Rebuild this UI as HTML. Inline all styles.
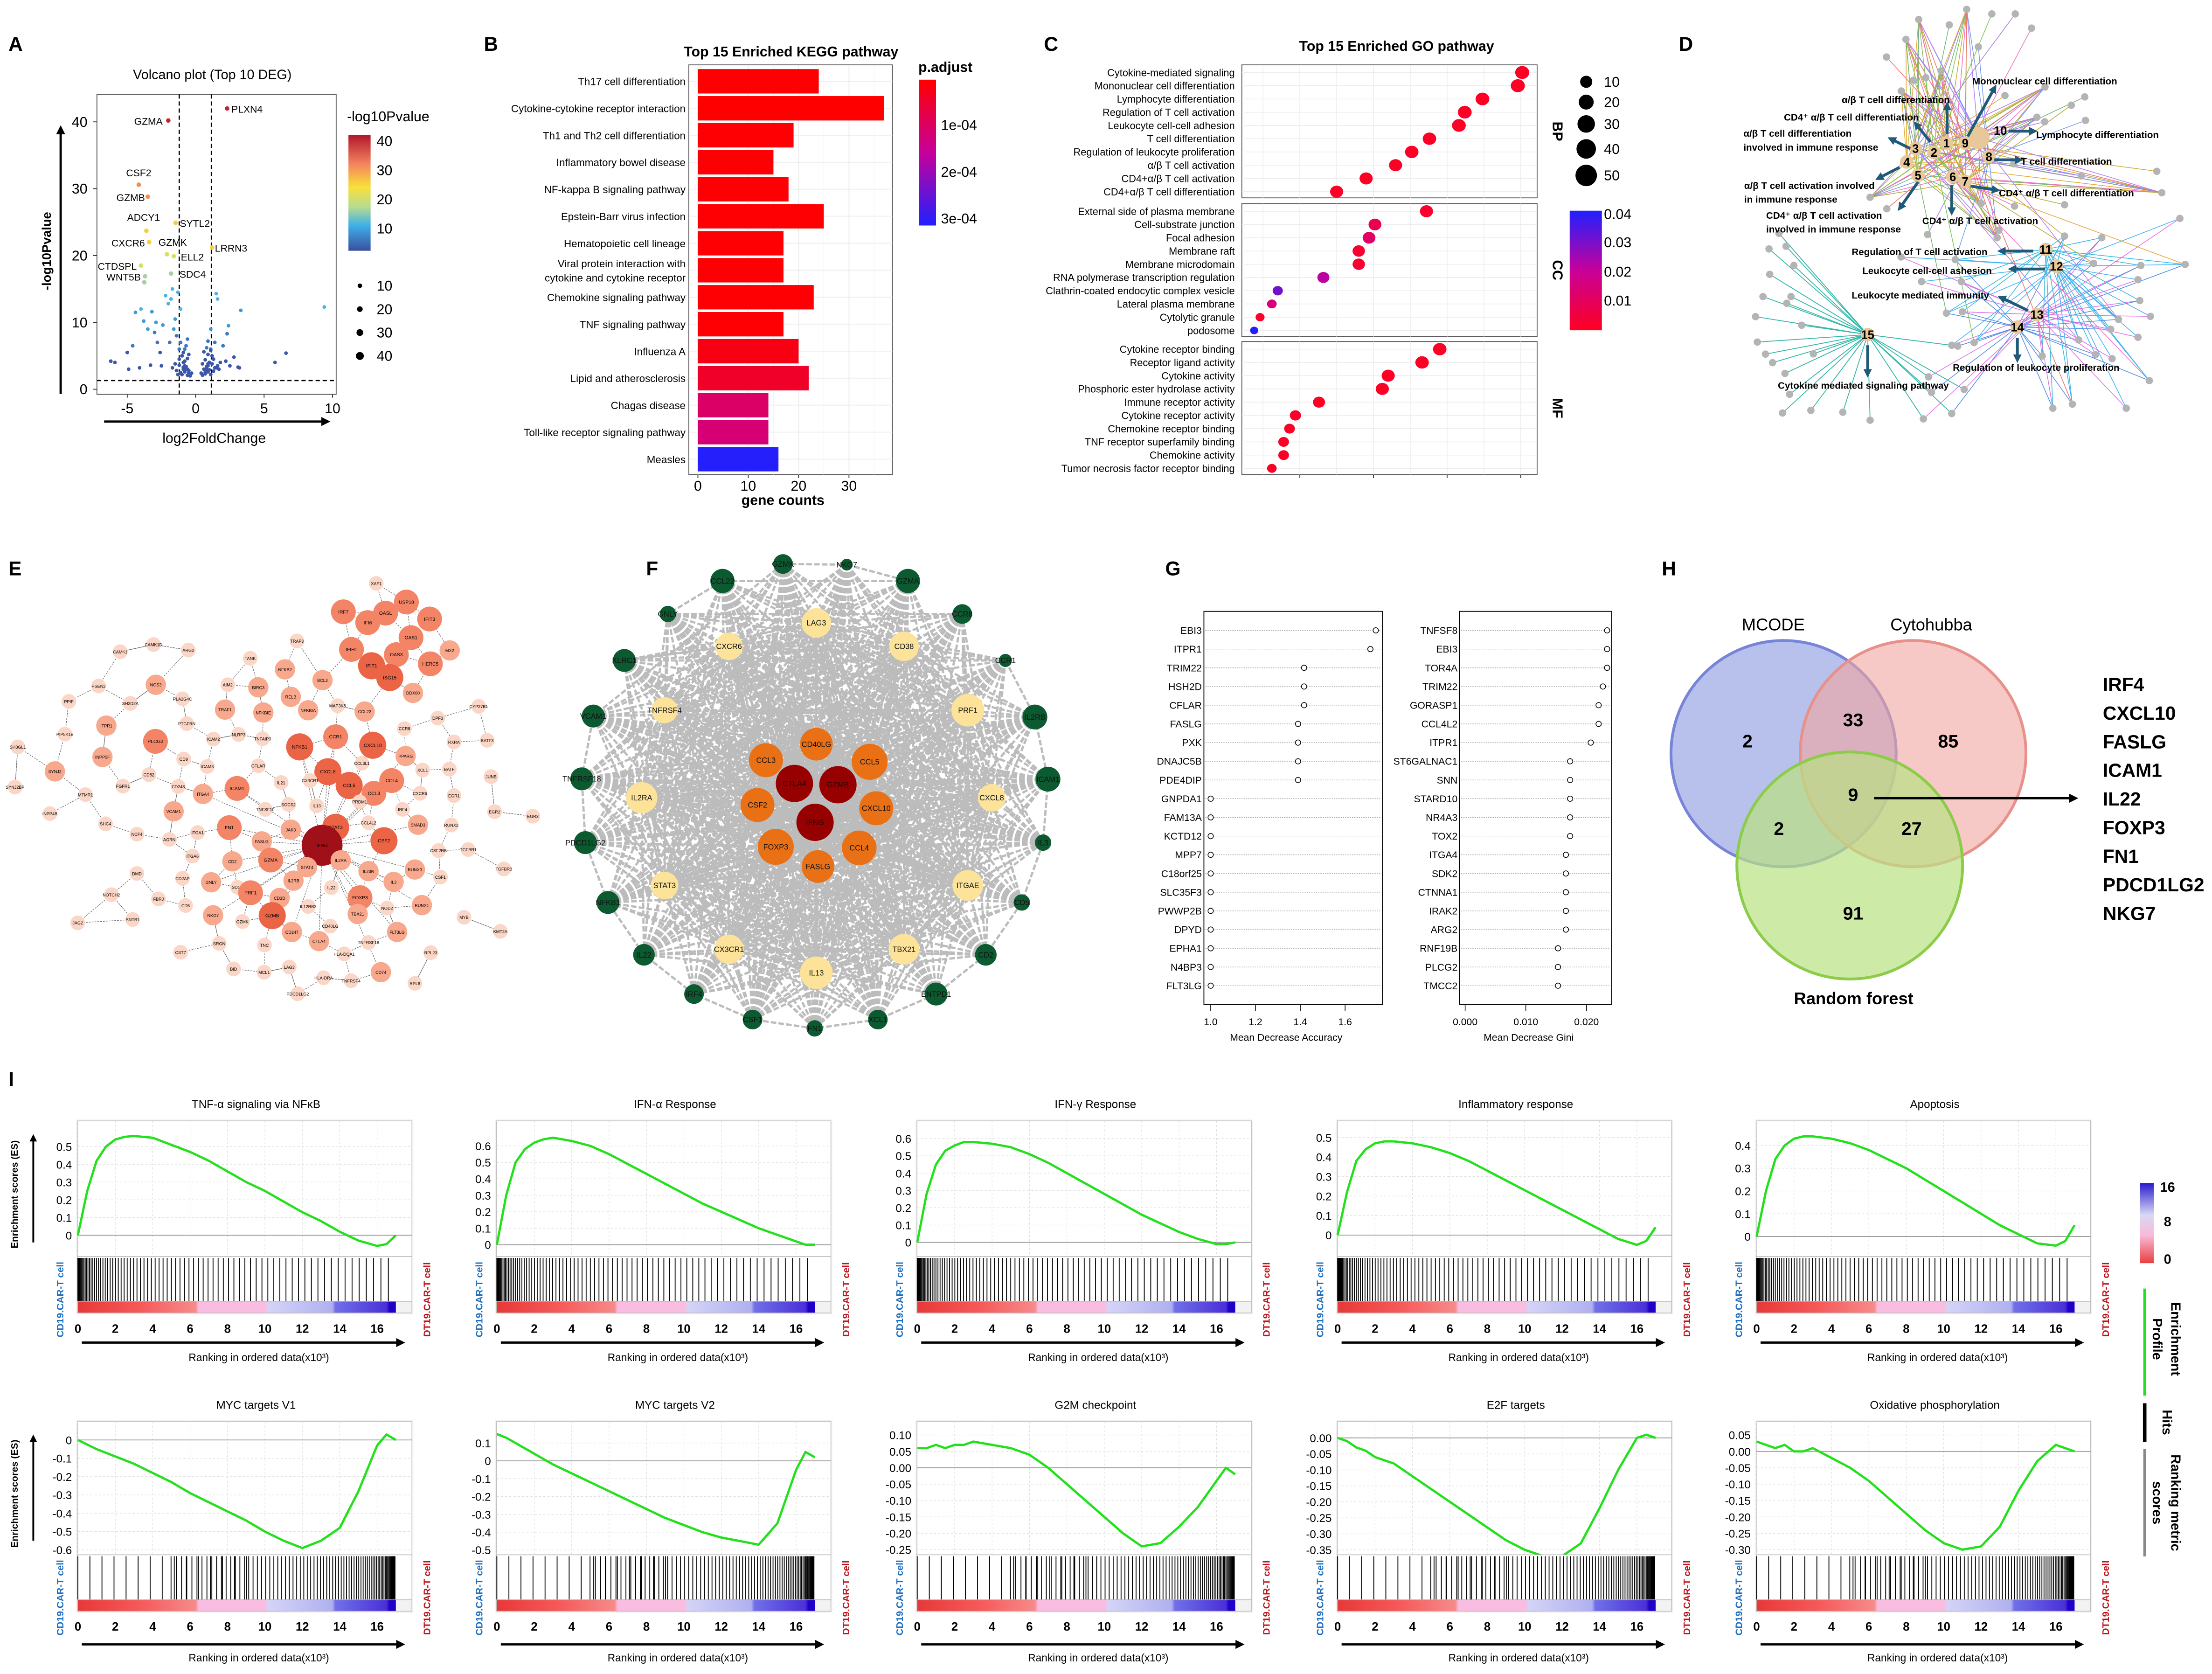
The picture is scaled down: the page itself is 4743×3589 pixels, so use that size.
<!DOCTYPE html>
<html><head><meta charset="utf-8"><title>Figure</title>
<style>
html,body{margin:0;padding:0;background:#fff;}
svg{display:block;font-family:"Liberation Sans Narrow","Liberation Sans","DejaVu Sans",sans-serif;}
</style></head>
<body>
<svg id="fig" xmlns="http://www.w3.org/2000/svg" width="4743" height="3589" viewBox="0 0 1568 1187" preserveAspectRatio="none">
<defs>
<marker id="ah" viewBox="0 0 10 10" refX="5" refY="5" markerWidth="4" markerHeight="4" orient="auto"><path d="M0,0L10,5L0,10z" fill="#000"/></marker>
<marker id="ahb" viewBox="0 0 10 10" refX="5" refY="5" markerWidth="3" markerHeight="3" orient="auto"><path d="M0,0L10,5L0,10z" fill="#1f5a78"/></marker>
<linearGradient id="gVol" x1="0" y1="0" x2="0" y2="1"><stop offset="0" stop-color="#b2182b"/><stop offset="0.25" stop-color="#f4845f"/><stop offset="0.45" stop-color="#f9e03a"/><stop offset="0.62" stop-color="#b6dc90"/><stop offset="0.78" stop-color="#3fb0e8"/><stop offset="1" stop-color="#3a4fa0"/></linearGradient>
<linearGradient id="gKegg" x1="0" y1="0" x2="0" y2="1"><stop offset="0" stop-color="#ff0000"/><stop offset="0.5" stop-color="#c8009a"/><stop offset="1" stop-color="#2020ff"/></linearGradient>
<linearGradient id="gGo" x1="0" y1="0" x2="0" y2="1"><stop offset="0" stop-color="#2020ff"/><stop offset="0.5" stop-color="#c8009a"/><stop offset="1" stop-color="#ff0020"/></linearGradient>
<linearGradient id="gRank" x1="0" y1="0" x2="1" y2="0"><stop offset="0" stop-color="#e83838"/><stop offset="0.2" stop-color="#f65a5a"/><stop offset="0.37" stop-color="#f78a8a"/><stop offset="0.38" stop-color="#f8bde0"/><stop offset="0.59" stop-color="#f8bde0"/><stop offset="0.6" stop-color="#d4d4f8"/><stop offset="0.8" stop-color="#b0b0f0"/><stop offset="0.81" stop-color="#7070e8"/><stop offset="0.97" stop-color="#4a30d8"/><stop offset="0.98" stop-color="#2000c8"/><stop offset="1" stop-color="#2000c8"/></linearGradient>
<linearGradient id="gLeg" x1="0" y1="0" x2="0" y2="1"><stop offset="0" stop-color="#2a1ccc"/><stop offset="0.4" stop-color="#d8d8f4"/><stop offset="0.65" stop-color="#f8bbd8"/><stop offset="1" stop-color="#e84040"/></linearGradient>
</defs>
<g id="root"></g>
</svg>
<script>
// ===================== DATA =====================
const volFc = [-6.2,-5.9,-5.0,-4.6,-4.4,-4.0,-3.8,-3.5,-3.2,-3.0,-2.8,-2.6,-2.4,-2.2,-2.0,-1.9,-1.8,-1.7,-1.6,-1.5,-1.4,-1.3,-1.2,-1.1,-1.0,-0.9,-0.8,-0.7,-0.6,-0.5,-1.5,-1.2,-0.9,-1.7,-2.5,-3.3,-4.9,-4.1,-1.4,-1.1,0.7,0.8,0.9,1.0,1.1,1.2,1.3,1.4,1.5,1.6,1.7,1.8,2.0,2.2,2.5,2.8,3.1,3.3,5.8,6.6,9.4,1.5,2.4,2.3,3.2,1.1,1.3,0.9,1.6,-2.9];
const volP = [4.2,4.0,5.5,6.5,11.5,12,10.2,9,11.6,8.5,7,5.5,9.6,14,12.8,7,13.5,15,9,10.5,8,14.5,6,12,5,4,3.5,3,3,2.5,3.8,4.5,3.3,3.2,3.5,3.6,3,3.2,2.8,2.5,2.5,3,3.5,4,6,5,4.5,7,3.2,3.5,3,4,6.5,4.2,3.5,4.8,3.3,11.8,4,5.4,12.3,14.3,9.5,8.3,3.2,9,4.5,3.8,13.5,10];
const volFc2 = [-1.0,-0.8,-0.6,-0.9,-1.1,-0.7,-0.5,-1.3,-0.4,-0.8,-1.0,-0.6,-1.2,-0.9,-0.7,-0.5,-0.3,-1.1,-0.8,-0.6,0.5,0.7,0.9,1.1,0.6,0.8,1.0,1.2,0.4,0.7,0.9,1.3,0.6,1.0,0.8,1.4,0.5,1.1,0.7,0.9];
const volP2 = [2.2,2.6,2.1,3.0,2.4,3.4,2.8,2.2,2.0,4.2,5.0,4.6,3.6,5.5,6.5,5.2,2.4,7.0,6.0,7.5,2.1,2.3,2.6,2.2,3.0,3.4,2.9,3.8,2.4,4.4,5.2,2.7,5.6,4.0,6.2,3.2,3.8,5.8,2.8,7.2];
const volLabGenes = ["GZMA","PLXN4","CSF2","GZMB","ADCY1","SYTL2","CXCR6","GZMK","ELL2","LRRN3","CTDSPL","SDC4","WNT5B"];
const volLabFc = [-2.0,2.3,-4.16,-3.5,-3.6,-1.47,-3.4,-2.1,-1.6,1.2,-4.0,-1.8,-3.7];
const volLabP = [40.2,42,30.6,28.8,23.7,24.9,22,20.2,19.9,21.2,18.5,17.3,16.9];
const volXTicks = [-5,0,5,10];
const volYTicks = [0,10,20,30,40];

const keggTerms = ["Th17 cell differentiation","Cytokine-cytokine receptor interaction","Th1 and Th2 cell differentiation","Inflammatory bowel disease","NF-kappa B signaling pathway","Epstein-Barr virus infection","Hematopoietic cell lineage","Viral protein interaction with|cytokine and cytokine receptor","Chemokine signaling pathway","TNF signaling pathway","Influenza A","Lipid and atherosclerosis","Chagas disease","Toll-like receptor signaling pathway","Measles"];
const keggCounts = [24,37,19,15,18,25,17,17,23,17,20,22,14,14,16];
const keggPadj = [5e-6,3e-6,6e-6,6e-6,6e-6,6e-6,6e-6,6e-6,6e-6,6e-6,2.2e-5,4.5e-5,1.05e-4,1.2e-4,3.1e-4];
const keggXTicks = [0,10,20,30];

const goBPTerms = ["Cytokine-mediated signaling","Mononuclear cell differentiation","Lymphocyte differentiation","Regulation of T cell activation","Leukocyte cell-cell adhesion","T cell differentiation","Regulation of leukocyte proliferation","α/β T cell activation","CD4+α/β T cell activation","CD4+α/β T cell differentiation"];
const goBPRatio = [0.201,0.198,0.174,0.162,0.158,0.138,0.126,0.115,0.095,0.075];
const goBPCount = [15,15,14,14,14,13,13,12,12,12];
const goBPPadj = [0.001,0.001,0.001,0.001,0.001,0.001,0.001,0.001,0.001,0.001];
const goCCTerms = ["External side of plasma membrane","Cell-substrate junction","Focal adhesion","Membrane raft","Membrane microdomain","RNA polymerase transcription regulation","Clathrin-coated endocytic complex vesicle","Lateral plasma membrane","Cytolytic granule","podosome"];
const goCCRatio = [0.136,0.101,0.097,0.090,0.090,0.066,0.035,0.031,0.023,0.019];
const goCCCount = [12,11,11,10,10,9,5,4,3,2];
const goCCPadj = [0.002,0.008,0.011,0.003,0.003,0.022,0.031,0.015,0.002,0.04];
const goMFTerms = ["Cytokine receptor binding","Receptor ligand activity","Cytokine activity","Phosphoric ester hydrolase activity","Immune receptor activity","Cytokine receptor activity","Chemokine receptor binding","TNF receptor superfamily binding","Chemokine activity","Tumor necrosis factor receptor binding"];
const goMFRatio = [0.145,0.133,0.110,0.106,0.063,0.047,0.043,0.039,0.039,0.031];
const goMFCount = [13,13,12,12,9,7,6,6,6,4];
const goMFPadj = [0.001,0.001,0.001,0.001,0.001,0.001,0.001,0.001,0.001,0.001];
const goSizeLegend = [10,20,30,40,50];
const goColorTicks = [0.04,0.03,0.02,0.01];

const rfAccGenes = ["EBI3","ITPR1","TRIM22","HSH2D","CFLAR","FASLG","PXK","DNAJC5B","PDE4DIP","GNPDA1","FAM13A","KCTD12","MPP7","C18orf25","SLC35F3","PWWP2B","DPYD","EPHA1","N4BP3","FLT3LG"];
const rfAccVals = [1.737,1.713,1.417,1.417,1.417,1.39,1.39,1.39,1.39,1.0,1.0,1.0,1.0,1.0,1.0,1.0,1.0,1.0,1.0,1.0];
const rfAccTicks = [1.0,1.2,1.4,1.6];
const rfGiniGenes = ["TNFSF8","EBI3","TOR4A","TRIM22","GORASP1","CCL4L2","ITPR1","ST6GALNAC1","SNN","STARD10","NR4A3","TOX2","ITGA4","SDK2","CTNNA1","IRAK2","ARG2","RNF19B","PLCG2","TMCC2"];
const rfGiniVals = [0.0234,0.0234,0.0234,0.0227,0.022,0.022,0.0207,0.0173,0.0173,0.0173,0.0173,0.0173,0.0166,0.0166,0.0166,0.0166,0.0166,0.0153,0.0153,0.0153];
const rfGiniTicks = [0.000,0.010,0.020];

const vennCounts = {mOnly:2, mc:33, cOnly:85, all:9, mr:2, cr:27, rOnly:91};
const hubGenes = ["IRF4","CXCL10","FASLG","ICAM1","IL22","FOXP3","FN1","PDCD1LG2","NKG7"];

const gseaRanks = [0,0.5,1,1.5,2,2.5,3,4,5,6,7,8,9,10,11,12,13,14,15,16,16.5,17];
const gseaTitles = ["TNF-α signaling via NFκB","IFN-α Response","IFN-γ Response","Inflammatory response","Apoptosis","MYC targets V1","MYC targets V2","G2M checkpoint","E2F targets","Oxidative phosphorylation"];
const esTNF  = [0,0.25,0.42,0.5,0.54,0.555,0.56,0.55,0.51,0.47,0.42,0.36,0.3,0.25,0.19,0.13,0.08,0.02,-0.03,-0.06,-0.05,0.0];
const esIFNa = [0,0.3,0.5,0.58,0.62,0.64,0.65,0.63,0.6,0.55,0.49,0.43,0.37,0.31,0.25,0.2,0.15,0.1,0.06,0.02,0.0,0.0];
const esIFNg = [0,0.28,0.45,0.53,0.56,0.58,0.58,0.57,0.55,0.51,0.46,0.4,0.34,0.28,0.22,0.16,0.11,0.06,0.02,-0.01,-0.01,0.0];
const esInfl = [0,0.22,0.38,0.44,0.47,0.48,0.48,0.47,0.45,0.42,0.38,0.33,0.28,0.23,0.18,0.13,0.08,0.03,-0.02,-0.05,-0.03,0.04];
const esApop = [0,0.2,0.34,0.4,0.43,0.44,0.44,0.43,0.41,0.38,0.34,0.3,0.25,0.2,0.15,0.1,0.05,0.01,-0.03,-0.04,-0.02,0.05];
const esMYC1 = [0,-0.025,-0.05,-0.07,-0.09,-0.11,-0.13,-0.18,-0.23,-0.29,-0.34,-0.39,-0.44,-0.5,-0.55,-0.59,-0.55,-0.48,-0.28,-0.03,0.03,0.0];
const esMYC2 = [0.15,0.13,0.1,0.07,0.04,0.01,-0.02,-0.07,-0.12,-0.17,-0.22,-0.27,-0.32,-0.36,-0.4,-0.43,-0.45,-0.47,-0.35,-0.05,0.05,0.02];
const esG2M  = [0.06,0.06,0.07,0.06,0.07,0.07,0.08,0.07,0.06,0.04,0.0,-0.05,-0.1,-0.15,-0.2,-0.24,-0.23,-0.18,-0.12,-0.04,0.0,-0.02];
const esE2F  = [0,-0.01,-0.03,-0.04,-0.06,-0.07,-0.08,-0.12,-0.16,-0.2,-0.24,-0.28,-0.32,-0.35,-0.37,-0.37,-0.33,-0.22,-0.1,0.0,0.01,0.0];
const esOx   = [0.03,0.02,0.01,0.02,0.0,0.0,0.01,-0.02,-0.05,-0.09,-0.14,-0.19,-0.24,-0.28,-0.3,-0.29,-0.23,-0.12,-0.03,0.02,0.01,0.0];
const gseaYTicks1 = [[0,0.1,0.2,0.3,0.4,0.5],[0,0.1,0.2,0.3,0.4,0.5,0.6],[0,0.1,0.2,0.3,0.4,0.5,0.6],[0,0.1,0.2,0.3,0.4,0.5],[0,0.1,0.2,0.3,0.4]];
const gseaYTicks2 = [[0,-0.1,-0.2,-0.3,-0.4,-0.5,-0.6],[0.1,0,-0.1,-0.2,-0.3,-0.4,-0.5],[0.10,0.05,0.00,-0.05,-0.10,-0.15,-0.20,-0.25],[0.00,-0.05,-0.10,-0.15,-0.20,-0.25,-0.30,-0.35],[0.05,0.00,-0.05,-0.10,-0.15,-0.20,-0.25,-0.30]];
const gseaXTicks = [0,2,4,6,8,10,12,14,16];

// ===================== HELPERS =====================
const NS='http://www.w3.org/2000/svg';
const root=document.getElementById('root');
function add(tag,attrs,name,parent){
  const el=document.createElementNS(NS,tag);
  for(const k in attrs) el.setAttribute(k,attrs[k]);
  
  
  (parent||root).appendChild(el);
  return el;
}
function txt(x,y,s,size,name,o){
  o=o||{};
  const a={x:x,y:y,'font-size':size,'text-anchor':o.a||'start',fill:o.f||'#000'};
  if(o.w) a['font-weight']=o.w;
  if(o.rot) a.transform='rotate('+o.rot+' '+x+' '+y+')';
  if(o.ff) a['font-family']=o.ff;
  const t=add('text',a,name,o.p);
  t.textContent=s;
  return t;
}
function line(x1,y1,x2,y2,stroke,sw,name,extra,p){
  const a={x1:x1,y1:y1,x2:x2,y2:y2,stroke:stroke,'stroke-width':sw};
  if(extra) for(const k in extra) a[k]=extra[k];
  return add('line',a,name,p);
}
const WIDE='"Liberation Sans","DejaVu Sans",sans-serif';

[['A',6,36],['B',343,36],['C',740,36],['D',1190,36],['E',6,408],['F',458,408],['G',826,408],['H',1178,408],['I',6,770]].forEach(function(p){
  txt(p[1],p[2],p[0],14,'panel-label-'+p[0].toLowerCase(),{w:'bold',ff:WIDE});
});

// ===================== PANEL A =====================
(function(){
  const g=add('g',{},'volcano-plot');
  const xs=function(v){return 138.7+v*9.7;};
  const ys=function(v){return 276-v*4.74;};
  add('rect',{x:68.7,y:66.9,width:169.6,height:212.7,fill:'#fff',stroke:'#555','stroke-width':0.6},'volcano-plot-area',g);
  txt(150.5,56,'Volcano plot (Top 10 DEG)',9.5,'volcano-title',{a:'middle',p:g});
  volXTicks.forEach(function(t){
    line(xs(t),279.6,xs(t),282,'#333',0.6,'x-tick',null,g);
    txt(xs(t),293,String(t),10,'x-tick-label',{a:'middle',p:g});
  });
  volYTicks.forEach(function(t){
    line(66,ys(t),68.7,ys(t),'#333',0.6,'y-tick',null,g);
    txt(62,ys(t)+3.5,String(t),10,'y-tick-label',{a:'end',p:g});
  });
  line(xs(-1.2),66.9,xs(-1.2),279.6,'#000',0.9,'fc-threshold-left',{'stroke-dasharray':'3,2'},g);
  line(xs(1.15),66.9,xs(1.15),279.6,'#000',0.9,'fc-threshold-right',{'stroke-dasharray':'3,2'},g);
  line(68.7,ys(1.3),238.3,ys(1.3),'#000',0.9,'p-threshold',{'stroke-dasharray':'3,2'},g);
  function col(p){return p<6?'#3c56a8':(p<9?'#3a78c4':(p<12?'#3d9ad6':'#4cb3e4'));}
  for(let i=0;i<Math.min(volFc.length,volP.length);i++){
    add('circle',{cx:xs(volFc[i]),cy:ys(volP[i]),r:1.3,fill:col(volP[i])},'deg-point',g);
  }
  for(let i=0;i<Math.min(volFc2.length,volP2.length);i++){
    add('circle',{cx:xs(volFc2[i]),cy:ys(volP2[i]),r:1.3,fill:col(volP2[i])},'deg-point',g);
  }
  const labCol=function(p){return p>38?'#c0282c':(p>28?'#f0904a':(p>21?'#f2d23a':(p>18?'#d8e060':'#a8d0a0')));};
  const offs=[[-4,3,'end'],[3,3,'start'],[0,-6,'middle'],[-2,3,'end'],[-2,-7,'middle'],[3,3,'start'],[-3,3,'end'],[-6,-6,'start'],[5,3,'start'],[2,3,'start'],[-3,3,'end'],[6,3,'start'],[-3,3,'end']];
  for(let i=0;i<volLabGenes.length;i++){
    const x=xs(volLabFc[i]), y=ys(volLabP[i]);
    add('circle',{cx:x,cy:y,r:1.6,fill:labCol(volLabP[i])},'top-deg-point',g);
    txt(x+offs[i][0],y+offs[i][1],volLabGenes[i],7,'gene-label',{a:offs[i][2],p:g});
  }
  add('circle',{cx:xs(-3.75),cy:ys(16.0),r:1.6,fill:'#a8d0a0'},'top-deg-point',g);
  line(43,279.4,43,92,'#000',1.6,'y-axis-arrow',{'marker-end':'url(#ah)'},g);
  line(73.8,298.9,231,298.9,'#000',1.6,'x-axis-arrow',{'marker-end':'url(#ah)'},g);
  txt(36,178,'-log10Pvalue',9,'y-axis-title',{a:'middle',rot:-90,ff:WIDE,w:'bold',p:g});
  txt(151.8,314,'log2FoldChange',10,'x-axis-title',{a:'middle',p:g});
  txt(246,86,'-log10Pvalue',10,'legend-title',{p:g});
  add('rect',{x:247,y:95.9,width:15.7,height:81.9,fill:'url(#gVol)'},'color-bar',g);
  [[40,100],[30,120.7],[20,141.3],[10,162]].forEach(function(p){txt(267,p[1]+3.5,String(p[0]),10,'color-bar-label',{p:g});});
  [[10,202.6,1.6],[20,219.2,2.0],[30,235.8,2.4],[40,252.4,2.8]].forEach(function(p){
    add('circle',{cx:255.1,cy:p[1],r:p[2],fill:'#000'},'size-legend-dot',g);
    txt(267,p[1]+3.5,String(p[0]),10,'size-legend-label',{p:g});
  });
})();

// ===================== PANEL B =====================
(function(){
  const g=add('g',{},'kegg-bar-chart');
  const x0=494.7, k=3.57, y0=57.6, dy=19.14;
  const xs=function(v){return x0+v*k;};
  add('rect',{x:488.3,y:46,width:144.3,height:290.5,fill:'#fff',stroke:'#555','stroke-width':0.6},'kegg-plot-area',g);
  keggXTicks.forEach(function(t){
    line(xs(t),46,xs(t),336.5,'#ebebeb',0.6,'x-grid',null,g);
    line(xs(t)+17.85,46,xs(t)+17.85,336.5,'#f4f4f4',0.4,'x-grid-minor',null,g);
    line(xs(t),336.5,xs(t),339,'#333',0.6,'x-tick',null,g);
    txt(xs(t),348,String(t),10,'x-tick-label',{a:'middle',p:g});
  });
  function pcol(p){
    const t=Math.min(1,Math.max(0,(p-3e-6)/(3.12e-4)));
    let r,gg,b;
    if(t<0.5){const u=t/0.5;r=255-u*55;gg=0;b=u*154;}else{const u=(t-0.5)/0.5;r=200-u*168;gg=u*32;b=154+u*101;}
    return 'rgb('+Math.round(r)+','+Math.round(gg)+','+Math.round(b)+')';
  }
  for(let i=0;i<keggTerms.length;i++){
    const y=y0+i*dy;
    line(488.3,y,632.6,y,'#ebebeb',0.6,'y-grid',null,g);
    add('rect',{x:x0,y:y-8.6,width:keggCounts[i]*k,height:17.3,fill:pcol(keggPadj[i])},'bar-'+keggTerms[i].split('|')[0].toLowerCase().replace(/[^a-z0-9]+/g,'-'),g);
    const parts=keggTerms[i].split('|');
    if(parts.length===1) txt(486,y+2.8,parts[0],7.4,'term-label',{a:'end',p:g});
    else { txt(486,y-2,parts[0],7.4,'term-label',{a:'end',p:g}); txt(486,y+8,parts[1],7.4,'term-label',{a:'end',p:g}); }
  }
  txt(560.8,40,'Top 15 Enriched KEGG pathway',10,'kegg-title',{a:'middle',w:'bold',p:g});
  txt(555,358,'gene counts',10,'x-axis-title',{a:'middle',w:'bold',p:g});
  txt(651,51,'p.adjust',10,'legend-title',{w:'bold',p:g});
  add('rect',{x:651.5,y:56.5,width:12,height:103.4,fill:'url(#gKegg)'},'p-adjust-color-bar',g);
  [['1e-04',88.6],['2e-04',121.8],['3e-04',155]].forEach(function(p){txt(667,p[1]+3.5,p[0],10,'color-bar-label',{p:g});});
})();

// ===================== PANEL C =====================
(function(){
  const g=add('g',{},'go-dot-plot');
  const xs=function(v){return 921.4+(v-0.05)*1044;};
  const rr=function(c){return 0.844*Math.sqrt(c)+1.73;};
  function ccol(p){
    const t=Math.min(1,Math.max(0,p/0.041));
    let r,gg,b;
    if(t<0.5){const u=t/0.5;r=255-u*55;gg=0;b=32+u*122;}else{const u=(t-0.5)/0.5;r=200-u*168;gg=u*32;b=154+u*101;}
    return 'rgb('+Math.round(r)+','+Math.round(gg)+','+Math.round(b)+')';
  }
  txt(990,36,'Top 15 Enriched GO pathway',10,'go-title',{a:'middle',w:'bold',p:g});
  const facets=[[goBPTerms,goBPRatio,goBPCount,goBPPadj,46,'BP'],[goCCTerms,goCCRatio,goCCCount,goCCPadj,144.4,'CC'],[goMFTerms,goMFRatio,goMFCount,goMFPadj,242.2,'MF']];
  facets.forEach(function(f){
    const top=f[4], h=94.3;
    add('rect',{x:880.3,y:top,width:209.3,height:h,fill:'#fff',stroke:'#555','stroke-width':0.6},'facet-'+f[5].toLowerCase(),g);
    [0.025,0.05,0.075,0.1,0.125,0.15,0.175,0.2].forEach(function(t){
      line(xs(t),top,xs(t),top+h,'#ececec',0.5,'x-grid',null,g);
    });
    for(let i=0;i<f[0].length;i++){
      const y=top+5.4+i*9.39;
      line(880.3,y,1089.6,y,'#ececec',0.5,'y-grid',null,g);
      txt(875.3,y+2.6,f[0][i],7.2,'term-label',{a:'end',p:g});
      add('ellipse',{cx:xs(f[1][i]),cy:y,rx:rr(f[2][i]),ry:rr(f[2][i])*0.92,fill:ccol(f[3][i])},'go-dot',g);
    }
    txt(1100.7,top+h/2,f[5],10,'facet-strip-'+f[5].toLowerCase(),{a:'middle',w:'bold',rot:90,p:g});
  });
  [0.05,0.1,0.15,0.2].forEach(function(t){line(xs(t),336.5,xs(t),339,'#333',0.6,'x-tick',null,g);});
  const ly=[58,72.4,87.9,105.6,124.4];
  goSizeLegend.forEach(function(c,i){
    const r=[4.3,5.3,6.2,6.9,7.6][i];
    add('circle',{cx:1124.4,cy:ly[i],r:r,fill:'#000'},'size-legend-dot',g);
    txt(1137,ly[i]+3.5,String(c),10,'size-legend-label',{p:g});
  });
  add('rect',{x:1112.7,y:149.4,width:22.8,height:84.8,fill:'url(#gGo)'},'p-adjust-color-bar',g);
  const cy=[151.7,171.8,192.6,213.2];
  goColorTicks.forEach(function(t,i){txt(1137,cy[i]+3.5,t.toFixed(2),10,'color-bar-label',{p:g});});
})();

// ===================== PANEL D =====================
(function(){
  const g=add('g',{},'go-network');
  const P=function(zx,zy){return [1173.5+zx*0.2515, zy*0.1898];};
  const hubs=[[820,535],[785,570],[733,555],[708,605],[740,655],[838,660],[873,678],[940,585],[873,535],[910,515],[1100,932],[1130,995],[1075,1175],[1020,1222],[598,1250]];
  const hubCols=['#c8a020','#70c040','#a070e0','#e0a020','#60b060','#f060c0','#b0a020','#6090f0','#f06060','#b070f0','#20b0e0','#30a8f0','#e060e0','#4080e0','#20b0a0'];
  const top=[[877,35],[948,52],[1014,52],[742,73],[828,93],[1060,105],[706,147],[910,175],[651,213],[805,265],[727,300],[762,290],[693,340],[985,357],[1210,362],[1098,325],[1172,393],[1212,450],[1075,438],[1097,455],[1413,640],[1427,720],[1200,657],[1010,612],[918,760],[1012,770],[1153,765],[605,737],[652,780],[767,876],[963,888],[968,860]];
  const mid=[[1153,882],[1258,888],[1478,816],[1493,988],[1368,992],[1360,1045],[1235,984],[1365,1123],[1395,1182],[1305,1193],[1283,1230],[1360,1260],[1193,1270],[1240,1325],[1287,1340],[1392,1422],[1090,1330],[1327,1525],[1175,1510],[1120,1525],[835,1290],[898,1280],[862,1052],[750,1052],[820,1170],[865,1165],[692,960],[845,970]];
  const left=[[320,930],[368,920],[348,872],[390,992],[322,1025],[303,1108],[382,1108],[370,1133],[282,1183],[412,1215],[287,1278],[310,1323],[330,1355],[445,1322],[365,1395],[378,1473],[358,1543],[438,1533],[528,1540],[605,1570],[770,1408],[778,1466],[755,1565],[835,1545],[870,1455],[852,1293]];
  const eg=add('g',{opacity:0.9},'network-edges',g);
  top.forEach(function(n,i){
    const a=P(n[0],n[1]);
    for(let j=0;j<10;j++){
      if((i+j*3)%3===0||j===(i%10)){
        const h=P(hubs[j][0],hubs[j][1]);
        line(h[0],h[1],a[0],a[1],hubCols[j],0.5,'edge',null,eg);
      }
    }
  });
  mid.forEach(function(n,i){
    const a=P(n[0],n[1]);
    [10,11,12,13].forEach(function(j,k){
      if((i+k)%3!==2){const h=P(hubs[j][0],hubs[j][1]);line(h[0],h[1],a[0],a[1],hubCols[j],0.5,'edge',null,eg);}
    });
    if(i%3===0){const h=P(hubs[i%10][0],hubs[i%10][1]);line(h[0],h[1],a[0],a[1],hubCols[i%10],0.5,'edge',null,eg);}
  });
  left.forEach(function(n,i){
    const a=P(n[0],n[1]);
    const h=P(hubs[14][0],hubs[14][1]);
    line(h[0],h[1],a[0],a[1],hubCols[14],0.6,'edge',null,eg);
    if(n[0]>700){const h2=P(hubs[12+(i%2)][0],hubs[12+(i%2)][1]);line(h2[0],h2[1],a[0],a[1],hubCols[12+(i%2)],0.5,'edge',null,eg);}
  });
  top.concat(mid,left).forEach(function(n){const a=P(n[0],n[1]);add('circle',{cx:a[0],cy:a[1],r:2.6,fill:'#b4b4b4'},'gene-node',g);});
  hubs.forEach(function(h,i){
    const a=P(h[0],h[1]);
    add('circle',{cx:a[0],cy:a[1],r:i===9?8:4.8,fill:'#e8c89a'},'term-node-'+(i+1),g);
  });
  const lab=[[1,820,535],[2,785,570],[3,733,555],[4,708,605],[5,740,655],[6,838,660],[7,873,678],[8,940,585],[9,873,535],[10,972,488],[11,1100,932],[12,1130,995],[13,1075,1175],[14,1020,1222],[15,598,1250]];
  lab.forEach(function(l){const a=P(l[1],l[2]);txt(a[0],a[1]+3,String(l[0]),8.5,'term-node-label',{a:'middle',w:'bold',p:g});});
  const arrows=[[995,490,1065,490],[955,597,1025,597],[822,500,822,395],[880,510,955,330],[718,555,665,520],[775,530,735,465],[688,625,630,665],[740,680,690,775],[835,690,835,790],[888,695,960,710],[1065,938,975,938],[1098,1005,1005,1005],[1050,1160,975,1112],[1020,1262,1020,1340],[598,1290,598,1395]];
  arrows.forEach(function(a){const s=P(a[0],a[1]),e=P(a[2],a[3]);line(s[0],s[1],e[0],e[1],'#1f5a78',2,'term-arrow',{'marker-end':'url(#ahb)'},g);});
  const labels=[['Mononuclear cell differentiation',893,305],['α/β T cell differentiation',525,375],['CD4⁺ α/β T cell differentiation',362,440],['α/β    T    cell    differentiation',248,500],['involved in immune response',248,552],['Lymphocyte differentiation',1073,505],['T cell differentiation',1030,605],['α/β  T  cell  activation  involved',250,695],['in immune response',250,747],['CD4⁺ α/β T cell differentiation',968,723],['CD4⁺   α/β   T    cell    activation',312,807],['involved in immune response',312,858],['CD4⁺ α/β T cell activation',752,827],['Regulation of T cell activation',553,943],['Leukocyte cell-cell ashesion',583,1013],['Leukocyte mediated immunity',553,1105],['Regulation of leukocyte proliferation',838,1375],['Cytokine mediated signaling pathway',345,1442]];
  labels.forEach(function(l){const a=P(l[1],l[2]);txt(a[0],a[1]+2,l[0],6.8,'term-label',{w:'bold',p:g});});
})();

// ===================== PANEL E =====================
(function(){
  const g=add('g',{},'ppi-network');
  const nodes=[["XAF1",973,287,1],["USP18",1051,344,3],["IRF7",888,374,3],["OASL",997,378,3],["IFIT3",1111,396,3],["IFI6",951,407,3],["OAS1",1063,453,3],["TRAF3",768,463,1],["IFIH1",909,489,3],["MX2",1163,492,2],["OAS3",1025,505,3],["TANK",647,516,1],["CAMK1D",397,474,1],["CAMK1",311,496,1],["ARG2",487,491,1],["HERC5",1113,533,3],["IFIT1",961,539,4],["NFKB2",737,550,2],["ISG15",1008,575,4],["BCL3",834,583,2],["AIM2",589,597,1],["NOS3",403,597,2],["PSEN2",255,601,1],["BIRC3",668,605,2],["DDX60",1068,622,2],["RELB",752,634,2],["SH2D2A",337,654,1],["PLA2G4C",472,640,1],["PPIF",178,648,1],["MAP3K8",873,661,1],["CYP27B1",1238,663,1],["TRAF1",582,673,2],["NFKBIE",681,682,2],["NFKBIA",797,675,2],["CCL22",943,679,2],["DPF3",1132,699,1],["ITPR1",275,722,2],["PTGFRN",483,716,1],["CCR8",1046,731,1],["PIP5K1B",168,748,1],["NLRP3",617,749,1],["ICAM2",552,763,1],["TNFAIP3",679,762,1],["CCR1",868,756,3],["NFKB1",775,787,4],["CXCL10",964,782,4],["RXRA",1174,772,1],["BATF3",1260,767,1],["PLCG2",402,770,3],["SH3GL1",46,787,1],["INPP5F",265,818,2],["PPARG",1049,815,2],["CD9",475,824,1],["CCL3L1",936,837,1],["CFLAR",668,845,1],["ICAM3",536,847,1],["XCL1",1093,858,1],["SYNJ2",142,862,2],["CXCL8",848,863,4],["BATF",1162,855,1],["JUNB",1270,878,1],["CD82",385,872,1],["SYNJ2BP",39,910,1],["FGFR1",318,907,1],["CD248",461,908,1],["IL21",727,896,1],["CX3CR1",802,890,1],["CCL4",1013,890,3],["CCL5",903,905,4],["ICAM1",613,914,3],["ITGA4",525,931,2],["MTMR1",221,933,1],["CCL3",967,929,3],["CXCR6",1086,929,1],["EGR1",1174,936,1],["SOCS2",746,963,1],["TNFSF10",686,978,1],["IL13",819,967,1],["PRDM1",930,955,1],["IRF4",1041,978,1],["INPP4B",129,991,1],["VCAM1",449,984,2],["EGR2",1279,985,1],["EGR3",1378,999,1],["SHC4",273,1022,1],["STAT3",868,1033,4],["CCL4L2",953,1019,1],["SMAD3",1081,1025,2],["RUNX2",1167,1026,1],["NCF4",354,1054,1],["ITGA1",511,1049,1],["FN1",593,1034,3],["JAK3",752,1040,2],["AGRN",438,1070,1],["FASLG",677,1076,2],["IFNG",833,1088,5],["CSF2",993,1074,4],["CSF2RB",1134,1104,1],["TGFBR1",1211,1101,1],["ITGA6",498,1121,1],["CD2",601,1137,2],["GZMA",700,1133,3],["IL2RA",881,1134,2],["STAT4",794,1155,2],["TGFBR3",1303,1160,1],["DMD",354,1174,1],["IL23R",953,1167,2],["RUNX3",1073,1162,2],["CSF1",1139,1185,1],["CD2AP",472,1189,1],["GNLY",546,1201,2],["IL2RB",759,1196,2],["IL3",1018,1200,2],["SDC4",614,1216,1],["IL22",857,1217,1],["PRF1",648,1233,3],["NOTCH2",288,1239,1],["FBRJ",410,1252,1],["CD3D",723,1249,2],["FOXP3",931,1248,3],["CD5",480,1272,1],["IL12RB2",797,1275,1],["RUNX1",1091,1271,2],["NOD2",1001,1280,1],["TBX21",925,1298,2],["NKG7",551,1302,2],["GZMB",704,1303,4],["MYB",1200,1308,1],["JAG2",201,1325,1],["SNTB1",343,1315,1],["GZMK",627,1321,1],["CD40LG",854,1335,1],["FLT3LG",1027,1353,2],["KMT2A",1294,1351,1],["CD247",755,1353,2],["SRGN",567,1388,1],["TNC",684,1393,1],["CTLA4",825,1381,2],["TNFRSF18",953,1385,1],["CST7",467,1415,1],["HLA-DQA1",890,1420,1],["RPL23",1114,1416,1],["LAG3",748,1460,1],["BID",604,1466,1],["MCL1",683,1476,1],["CD74",985,1476,2],["HLA-DRA",837,1493,1],["TNFRSF4",908,1502,1],["RPL6",1073,1510,1],["PDCD1LG2",770,1542,1]];
  const P=function(zx,zy){return [zx*0.2741, 347.1+zy*0.2319];};
  const R=[0,5.2,7.2,8.8,9.6,14.5];
  const C=['','#fbd6c6','#f8a88c','#f48466','#ec6446','#a01019'];
  const pts=nodes.map(function(n){return P(n[1],n[2]);});
  const eg=add('g',{},'network-edges',g);
  const ifng=pts[nodes.findIndex(function(n){return n[0]==='IFNG';})];
  for(let i=0;i<pts.length;i++){
    const d=[];
    for(let j=0;j<pts.length;j++){ if(j!==i){const dx=pts[i][0]-pts[j][0],dy=pts[i][1]-pts[j][1];d.push([dx*dx+dy*dy,j]);} }
    d.sort(function(a,b){return a[0]-b[0];});
    const k=nodes[i][3]>=3?4:2;
    for(let m=0;m<k;m++){const j=d[m][1];if(j>i||m===0) line(pts[i][0],pts[i][1],pts[j][0],pts[j][1],'#666',0.4,'edge',{'stroke-dasharray':'1.2,0.8'},eg);}
    if(nodes[i][3]>=2 && pts[i][0]>140 && pts[i][1]>520) line(pts[i][0],pts[i][1],ifng[0],ifng[1],'#666',0.4,'edge',{'stroke-dasharray':'1.2,0.8'},eg);
  }
  nodes.forEach(function(n,i){
    add('circle',{cx:pts[i][0],cy:pts[i][1],r:R[n[3]],fill:C[n[3]]},'node-'+n[0].toLowerCase(),g);
    txt(pts[i][0],pts[i][1]+1.2,n[0],n[3]>=3?3.4:3,'node-label',{a:'middle',p:g});
  });
})();

// ===================== PANEL F =====================
(function(){
  const g=add('g',{},'hub-gene-network');
  const P=function(zx,zy){return [429.8+zx*0.2319, 380.2+zy*0.2319];};
  const green=[["GZMK",540,85,30],["NKG7",735,87,18],["GZMA",922,137,37],["CCL22",355,137,37],["GNLY",188,238,25],["CCR8",1088,238,30],["KLRC1",55,380,35],["CCR1",1220,380,20],["IL2RB",1310,553,38],["ICAM1",1350,743,38],["IL3",1335,937,25],["CD5",1270,1120,25],["CD2",1160,1280,33],["ENTPD1",1008,1400,35],["XCL1",830,1478,30],["FN1",637,1505,25],["CSF1",447,1478,30],["IRF4",268,1400,30],["IL22",115,1280,33],["NFKB1",5,1120,35],["PDCD1LG2",-64,937,35],["TNFRSF18",-75,742,35],["VCAM1",-40,550,35]];
  const yellow=[["LAG3",642,265,45],["CXCR6",375,337,42],["CD38",910,337,45],["TNFRSF4",178,532,40],["PRF1",1105,532,50],["IL2RA",108,800,48],["CXCL8",1178,800,42],["STAT3",178,1068,42],["ITGAE",1105,1068,47],["CX3CR1",375,1263,45],["TBX21",910,1263,47],["IL13",642,1335,50]];
  const orange=[["CD40LG",642,636,50],["CCL3",488,685,52],["CCL5",805,690,55],["CSF2",462,822,52],["CXCL10",825,832,52],["FOXP3",518,950,55],["CCL4",773,953,53],["FASLG",647,1010,50]];
  const red=[["CTLA4",575,756,57],["GZMB",708,760,57],["IFNG",638,875,57]];
  const all=green.concat(yellow,orange,red);
  const eg=add('g',{},'network-edges',g);
  for(let i=0;i<all.length;i++){
    for(let j=i+1;j<all.length;j++){
      const bothGreen=i<green.length&&j<green.length;
      if(bothGreen && Math.abs(i-j)!==1 && !(i===0&&j===green.length-1)) continue;
      const a=P(all[i][1],all[i][2]),b=P(all[j][1],all[j][2]);
      line(a[0],a[1],b[0],b[1],'#bcbcbc',1.6,'edge',{'stroke-dasharray':'4,1.5'},eg);
    }
  }
  const cols=[['#0b5a30',green],['#fde39a',yellow],['#ea7016',orange],['#960000',red]];
  cols.forEach(function(c){
    c[1].forEach(function(n){
      const a=P(n[1],n[2]);
      add('circle',{cx:a[0],cy:a[1],r:n[3]*0.2319,fill:c[0]},'node-'+n[0].toLowerCase(),g);
      txt(a[0],a[1]+1.9,n[0],5.4,'node-label',{a:'middle',ff:WIDE,f:c[0]==='#960000'?'#300':'#111',p:g});
    });
  });
})();

// ===================== PANEL G =====================
(function(){
  const g=add('g',{},'random-forest-importance');
  function dotplot(name,genes,vals,ticks,bx,bw,xs,title,fmt){
    const sg=add('g',{},name,g);
    add('rect',{x:bx,y:433.5,width:bw,height:278.8,fill:'none',stroke:'#000','stroke-width':0.6},'plot-frame',sg);
    for(let i=0;i<genes.length;i++){
      const y=447+i*13.26;
      line(bx+1,y,bx+bw-1,y,'#999',0.4,'row-guide',{'stroke-dasharray':'0.8,0.8'},sg);
      txt(bx-1.5,y+2.5,genes[i],7,'gene-label',{a:'end',p:sg});
      add('circle',{cx:xs(vals[i]),cy:y,r:1.9,fill:'#fff',stroke:'#000','stroke-width':0.5},'importance-dot',sg);
    }
    ticks.forEach(function(t){
      line(xs(t),712.3,xs(t),717,'#000',0.5,'x-tick',null,sg);
      txt(xs(t),727,fmt(t),7,'x-tick-label',{a:'middle',p:sg});
    });
    txt(bx+bw/2-5,738,title,7,'x-axis-title',{a:'middle',p:sg});
  }
  dotplot('mean-decrease-accuracy-plot',rfAccGenes,rfAccVals,rfAccTicks,853.4,126.6,function(v){return 858.2+(v-1)*158.8;},'Mean Decrease Accuracy',function(t){return t.toFixed(1);});
  dotplot('mean-decrease-gini-plot',rfGiniGenes,rfGiniVals,rfGiniTicks,1034.7,107.8,function(v){return 1038.6+v*4300;},'Mean Decrease Gini',function(t){return t.toFixed(3);});
})();

// ===================== PANEL H =====================
(function(){
  const g=add('g',{},'venn-diagram');
  add('ellipse',{cx:1264.3,cy:534.4,rx:79.8,ry:80.2,fill:'rgba(140,155,225,0.62)',stroke:'#7884d8','stroke-width':2},'mcode-circle',g);
  add('ellipse',{cx:1356.1,cy:534.4,rx:80,ry:80.2,fill:'rgba(240,165,160,0.6)',stroke:'#e8908a','stroke-width':2},'cytohubba-circle',g);
  add('ellipse',{cx:1311.2,cy:613.7,rx:80,ry:80.5,fill:'rgba(185,225,130,0.7)',stroke:'#8ccc48','stroke-width':2},'random-forest-circle',g);
  txt(1257,447,'MCODE',12,'mcode-label',{a:'middle',p:g});
  txt(1369,447,'Cytohubba',12,'cytohubba-label',{a:'middle',p:g});
  txt(1314,712,'Random forest',12,'random-forest-label',{a:'middle',w:'bold',p:g});
  [[vennCounts.mOnly,1238.7,525],[vennCounts.mc,1313.6,510],[vennCounts.cOnly,1381,525],[vennCounts.all,1313.6,563],[vennCounts.mr,1261,587],[vennCounts.cr,1355,587],[vennCounts.rOnly,1313.6,647]].forEach(function(n){
    txt(n[1],n[2]+5,String(n[0]),13,'venn-count',{a:'middle',w:'bold',p:g});
  });
  line(1328.5,566,1470,566,'#000',1.6,'hub-gene-arrow',{'marker-end':'url(#ah)'},g);
  hubGenes.forEach(function(s,i){txt(1490.6,490+i*20.3,s,13.5,'hub-gene-'+s.toLowerCase(),{w:'bold',p:g});});
})();

// ===================== PANEL I =====================
(function(){
  const g=add('g',{},'gsea-panels');
  const allES=[esTNF,esIFNa,esIFNg,esInfl,esApop,esMYC1,esMYC2,esG2M,esE2F,esOx];
  const x0s=[55,352,650,948,1245];
  const rows=[{title:785.6,top:794.8,bot:891,hits:922.7,bar:931,tl:942,arrow:952,lab:965,ticks:gseaYTicks1},
              {title:999,top:1007.8,bot:1102.5,hits:1134.4,bar:1142.5,tl:1153.3,arrow:1166,lab:1178,ticks:gseaYTicks2}];
  rows.forEach(function(r,ri){
    txt(12.6,(r.top+r.bot)/2+4,'Enrichment scores (ES)',6.8,'y-axis-title',{a:'middle',rot:-90,ff:WIDE,w:'bold',p:g});
    line(23.6,r.bot-10,23.6,r.top+12,'#000',1.3,'y-axis-arrow',{'marker-end':'url(#ah)'},g);
    for(let c=0;c<5;c++){
      const idx=ri*5+c, es=allES[idx], ticks=r.ticks[c];
      const pg=add('g',{},'gsea-'+gseaTitles[idx].toLowerCase().replace(/[^a-z0-9]+/g,'-'),g);
      const X0=x0s[c], W=237, xL=X0+0.2, xR=X0+225.6;
      const xs=function(v){return xL+(xR-xL)*v/17;};
      const tmax=Math.max.apply(null,ticks), tmin=Math.min.apply(null,ticks);
      let vmax=Math.max(tmax,Math.max.apply(null,es))+(tmax-tmin)*0.17;
      let vmin=Math.min(tmin,Math.min.apply(null,es))-(tmax-tmin)*0.12;
      if(ri===1){vmin=tmin-(tmax-tmin)*0.045; vmax=Math.max(tmax,Math.max.apply(null,es))+(tmax-tmin)*0.12;}
      const ys=function(v){return r.bot-(v-vmin)/(vmax-vmin)*(r.bot-r.top);};
      add('rect',{x:X0-1,y:r.top-1,width:W+2,height:r.bar-r.top+2,fill:'#f2f2f2'},'panel-shadow',pg);
      add('rect',{x:X0,y:r.top,width:W,height:r.bot-r.top,fill:'#fff',stroke:'#bbb','stroke-width':0.5},'es-plot-area',pg);
      gseaXTicks.forEach(function(t){line(xs(t),r.top,xs(t),r.bot,'#ddd',0.4,'x-grid',{'stroke-dasharray':'1.5,1.5'},pg);});
      ticks.forEach(function(t){
        const z=Math.abs(t)<1e-9;
        line(X0,ys(t),X0+W,ys(t),z?'#999':'#ddd',z?0.6:0.4,z?'zero-line':'y-grid',z?null:{'stroke-dasharray':'1.5,1.5'},pg);
        const lbl=(ri===1&&c>=2)?t.toFixed(2):(z?'0':String(t));
        txt(X0-4,ys(t)+3,lbl,8,'y-tick-label',{a:'end',p:pg});
      });
      let d='';
      for(let i=0;i<Math.min(gseaRanks.length,es.length);i++){d+=(i?'L':'M')+xs(gseaRanks[i]).toFixed(2)+','+ys(es[i]).toFixed(2);}
      add('path',{d:d,fill:'none',stroke:'#22e01a','stroke-width':1.6,'stroke-linejoin':'round'},'enrichment-curve',pg);
      txt(X0+W/2+8,r.title,gseaTitles[idx],8,'gsea-title',{a:'middle',p:pg});
      add('rect',{x:X0,y:r.bot,width:W,height:r.hits-r.bot,fill:'#fff',stroke:'#bbb','stroke-width':0.5},'hits-area',pg);
      const hg=add('g',{},'hit-lines',pg);
      const N=ri===0?80:95;
      for(let k=0;k<N;k++){
        let u=k/N;
        let pos=ri===0?17*Math.pow(u,1.9):17*(1-Math.pow(1-u,1.9)*0.98);
        if(ri===1 && u<0.15) pos=17*u*3.6;
        if(pos>16.95) pos=16.95;
        line(xs(pos),r.bot+1,xs(pos),r.hits,'#000',0.6,'hit',null,hg);
      }
      add('rect',{x:xL,y:r.hits,width:xR-xL,height:r.bar-r.hits,fill:'url(#gRank)'},'ranking-metric-bar',pg);
      add('rect',{x:X0,y:r.hits,width:W,height:r.bar-r.hits,fill:'none',stroke:'#bbb','stroke-width':0.5},'ranking-frame',pg);
      gseaXTicks.forEach(function(t){txt(xs(t),r.tl+3,String(t),8.5,'x-tick-label',{a:'middle',w:'bold',p:pg});});
      line(X0+3,r.arrow,X0+W-8,r.arrow,'#000',1.6,'x-axis-arrow',{'marker-end':'url(#ah)'},pg);
      txt(X0+W/2+10,r.lab,'Ranking in ordered data(x10³)',7.5,'x-axis-title',{a:'middle',p:pg});
      txt(X0-10,(r.bot+r.tl)/2+5,'CD19.CAR-T cell',6.8,'cd19-group-label',{a:'middle',rot:-90,f:'#1f6fc0',w:'bold',ff:WIDE,p:pg});
      txt(X0+W+13,(r.bot+r.tl)/2+5,'DT19.CAR-T cell',6.8,'dt19-group-label',{a:'middle',rot:-90,f:'#c0141c',w:'bold',ff:WIDE,p:pg});
    }
  });
  add('rect',{x:1517,y:838.8,width:9.8,height:56.9,fill:'url(#gLeg)'},'ranking-color-legend',g);
  [['16',841.5],['8',866],['0',892.6]].forEach(function(p){txt(1536.5,p[1]+3.5,p[0],9.5,'legend-label',{a:'middle',w:'bold',ff:WIDE,p:g});});
  line(1520.3,913.7,1520.3,989.6,'#22e01a',2,'legend-enrichment-line',null,g);
  line(1520.3,995,1520.3,1022.3,'#000',2.5,'legend-hits-line',null,g);
  line(1520.3,1027.6,1520.3,1103.6,'#888',2,'legend-ranking-line',null,g);
  txt(1539,949.5,'Enrichment',9.5,'legend-enrichment-label',{a:'middle',rot:90,w:'bold',p:g});
  txt(1526,949.5,'Profile',9.5,'legend-enrichment-label2',{a:'middle',rot:90,w:'bold',p:g});
  txt(1533,1008.6,'Hits',9.5,'legend-hits-label',{a:'middle',rot:90,w:'bold',p:g});
  txt(1539,1065.6,'Ranking metric',9.5,'legend-ranking-label',{a:'middle',rot:90,w:'bold',p:g});
  txt(1526,1065.6,'scores',9.5,'legend-ranking-label2',{a:'middle',rot:90,w:'bold',p:g});
})();
</script>
</body></html>
